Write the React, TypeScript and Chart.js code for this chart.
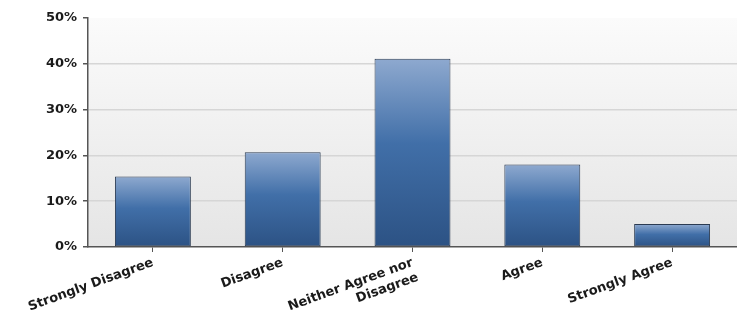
import React, { useEffect, useRef } from "react";
import { Chart, registerables } from "chart.js";

Chart.register(...registerables);

const categories: (string | string[])[] = [
  "Strongly Disagree",
  "Disagree",
  ["Neither Agree nor", "Disagree"],
  "Agree",
  "Strongly Agree",
];
const percentValues: number[] = [15.4, 20.7, 41.1, 18.0, 5.0];
const yTickMax = 50;
const yTickStep = 10;

const bgPlugin = {
  id: "plotBg",
  beforeDraw(chart: any) {
    const { ctx, chartArea } = chart;
    if (!chartArea) return;
    const g = ctx.createLinearGradient(0, chartArea.top, 0, chartArea.bottom);
    g.addColorStop(0, "#fbfbfb");
    g.addColorStop(1, "#e5e5e5");
    ctx.save();
    ctx.fillStyle = g;
    ctx.fillRect(chartArea.left, chartArea.top, chartArea.right - chartArea.left, chartArea.bottom - chartArea.top);
    ctx.restore();
  },
};

const FONT = { family: "'DejaVu Sans', Verdana, sans-serif", size: 13, weight: "bold" };

export default function App() {
  const ref = useRef<HTMLCanvasElement | null>(null);
  useEffect(() => {
    document.body.style.margin = "0";
    const canvas = ref.current!;
    const chart = new Chart(canvas, {
      type: "bar",
      data: {
        labels: categories,
        datasets: [
          {
            data: percentValues,
            backgroundColor: (c: any) => {
              const ch = c.chart;
              const ys = ch.scales && ch.scales.y;
              if (!ys || c.raw == null) return "#3d6aa3";
              const top = ys.getPixelForValue(c.raw);
              const bot = ys.getPixelForValue(0);
              if (!isFinite(top) || !isFinite(bot) || top === bot) return "#3d6aa3";
              const g = ch.ctx.createLinearGradient(0, top, 0, bot);
              g.addColorStop(0, "#8ea9cf");
              g.addColorStop(0.45, "#416fa8");
              g.addColorStop(1, "#2c5284");
              return g;
            },
            borderColor: "#2b3b52",
            borderWidth: 1,
            borderSkipped: false,
            categoryPercentage: 1,
            barPercentage: 0.585,
          },
        ],
      },
      options: {
        animation: false,
        responsive: false,
        maintainAspectRatio: false,
        layout: { padding: { top: 18, right: 0, left: 0, bottom: 0 } },
        plugins: { legend: { display: false }, tooltip: { enabled: false } },
        scales: {
          x: {
            grid: {
              display: true,
              drawOnChartArea: false,
              drawTicks: true,
              tickLength: 5,
              tickColor: "#555555",
              offset: false,
            },
            border: { color: "#555555", width: 1.5 },
            ticks: {
              minRotation: 20,
              maxRotation: 20,
              autoSkip: false,
              padding: 3,
              color: "#1a1a1a",
              font: FONT,
            },
            afterFit: (s: any) => {
              s.height = 77;
            },
          },
          y: {
            min: 0,
            max: yTickMax,
            ticks: {
              stepSize: yTickStep,
              padding: 6,
              color: "#1a1a1a",
              font: FONT,
              callback: (v: any) => v + "%",
            },
            grid: {
              color: (c: any) =>
                c.tick && (c.tick.value === 0 || c.tick.value === yTickMax) ? "rgba(0,0,0,0)" : "#d6d6d6",
              lineWidth: 1.5,
              tickLength: 5,
              tickColor: "#555555",
            },
            border: { color: "#555555", width: 1.5 },
            afterFit: (s: any) => {
              s.width = 88;
            },
          },
        },
      },
      plugins: [bgPlugin],
    } as any);
    return () => chart.destroy();
  }, []);
  return (
    <div style={{ width: 737, height: 324 }}>
      <canvas ref={ref} width={737} height={324} style={{ display: "block" }} />
    </div>
  );
}
